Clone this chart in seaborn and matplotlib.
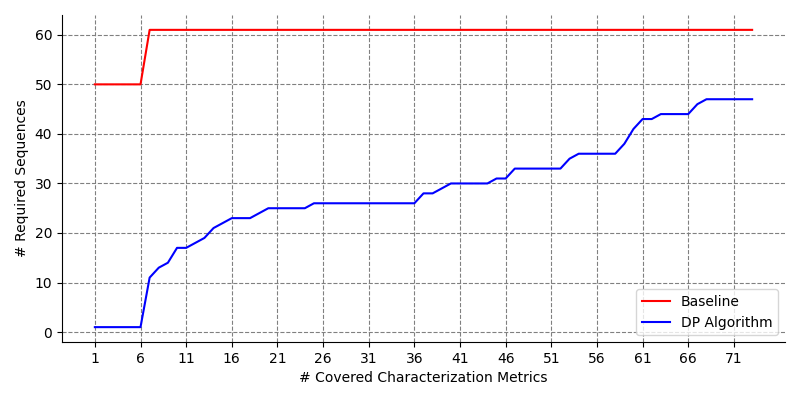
import matplotlib
matplotlib.use("Agg")
import matplotlib.pyplot as plt
import pandas as pd
import seaborn as sns

# number of covered metrics
metrics = list(range(1, 74))

baseline = [50] * 6 + [61] * 67

dp_algorithm = [1, 1, 1, 1, 1, 1, 11, 13, 14, 17,
                17, 18, 19, 21, 22, 23, 23, 23, 24, 25,
                25, 25, 25, 25, 26, 26, 26, 26, 26, 26,
                26, 26, 26, 26, 26, 26, 28, 28, 29, 30,
                30, 30, 30, 30, 31, 31, 33, 33, 33, 33,
                33, 33, 35, 36, 36, 36, 36, 36, 38, 41,
                43, 43, 44, 44, 44, 44, 46, 47, 47, 47,
                47, 47, 47]

df = pd.DataFrame({
    'metrics': metrics * 2,
    'sequences': baseline + dp_algorithm,
    'method': ['Baseline'] * len(metrics) + ['DP Algorithm'] * len(metrics),
})

fig, ax = plt.subplots(figsize=(8, 4), dpi=100)
sns.lineplot(data=df, x='metrics', y='sequences', hue='method',
             palette={'Baseline': 'red', 'DP Algorithm': 'blue'}, ax=ax)

ax.set_xticks(range(1, 74, 5))
ax.set_xlabel('# Covered Characterization Metrics')
ax.set_ylabel('# Required Sequences')
ax.grid(True, color='gray', linestyle='--')
ax.legend(loc='lower right', title=None)
sns.despine(ax=ax)

plt.subplots_adjust(left=0.0775, right=0.98125, top=0.9625, bottom=0.145)
plt.savefig('out.png')
